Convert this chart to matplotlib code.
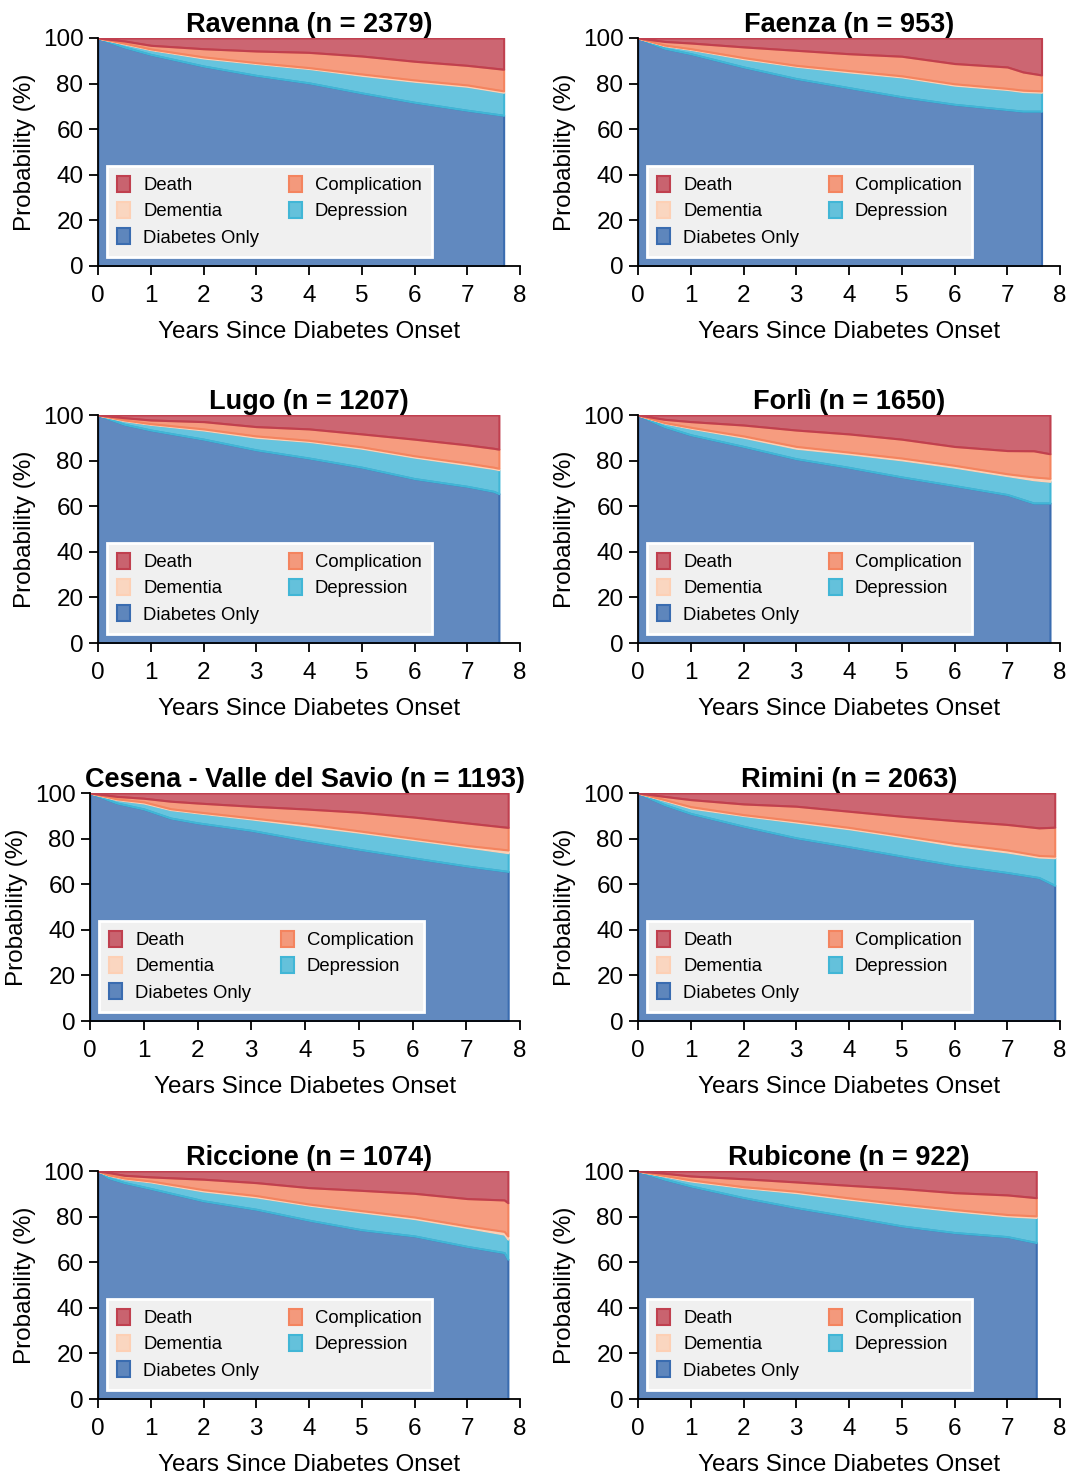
import matplotlib
matplotlib.use("Agg")
import matplotlib.pyplot as plt
from matplotlib.colors import to_rgba
from matplotlib.patches import Patch

plt.rcParams["font.family"] = ["Liberation Sans", "DejaVu Sans"]

# stack order, bottom to top
STATES = ["Diabetes Only", "Depression", "Dementia", "Complication", "Death"]
EDGE = {
    "Diabetes Only": "#3a6cb0",
    "Depression": "#41b6d6",
    "Dementia": "#fdd0b5",
    "Complication": "#f4845f",
    "Death": "#c0404f",
}
LEGEND_ORDER = ["Death", "Dementia", "Diabetes Only", "Complication", "Depression"]

# --- state probabilities (%) ---------------------------------------------
ravenna_t = [0, 0.5, 1, 2, 3, 4, 5, 6, 7, 7.69]
ravenna_only = [100, 96.0, 92.8, 87.7, 83.6, 80.3, 75.9, 71.8, 68.3, 66.1]
ravenna_depr = [0, 1.4, 2.1, 3.5, 5.2, 6.3, 7.7, 9.2, 10.5, 10.1]
ravenna_dem = [0, 0.3, 0.3, 0.5, 0.4, 0.4, 0.6, 0.6, 0.6, 0.6]
ravenna_comp = [0, 1.0, 1.6, 3.6, 5.1, 6.7, 7.9, 8.2, 8.6, 9.5]
ravenna_death = [0, 1.3, 3.2, 4.7, 5.7, 6.3, 7.9, 10.2, 12.0, 13.7]

faenza_t = [0, 0.5, 1, 2, 3, 4, 5, 6, 7, 7.3, 7.65]
faenza_only = [100, 95.5, 93.1, 87.3, 82.2, 78.2, 74.2, 70.9, 68.6, 67.9, 67.9]
faenza_depr = [0, 1.2, 1.9, 3.6, 5.4, 6.9, 8.7, 8.4, 8.8, 8.6, 8.3]
faenza_dem = [0, 0.2, 0.3, 0.5, 0.4, 0.6, 0.5, 0.6, 0.5, 0.6, 0.6]
faenza_comp = [0, 1.6, 2.5, 4.7, 6.6, 7.4, 8.6, 8.9, 9.4, 8.0, 7.0]
faenza_death = [0, 1.5, 2.2, 3.9, 5.4, 6.9, 8.0, 11.2, 12.7, 14.9, 16.2]

lugo_t = [0, 0.5, 1, 2, 3, 4, 5, 6, 7, 7.5, 7.6]
lugo_only = [100, 95.9, 93.4, 89.4, 84.7, 81.1, 77.1, 72.1, 68.7, 66.5, 65.5]
lugo_depr = [0, 1.6, 2.5, 4.0, 5.5, 7.3, 8.3, 9.4, 9.5, 10.0, 10.5]
lugo_dem = [0, 0.3, 0.3, 0.5, 0.6, 0.5, 0.6, 0.6, 0.7, 0.6, 0.6]
lugo_comp = [0, 1.0, 1.6, 3.2, 4.1, 5.0, 5.7, 7.3, 8.0, 8.3, 8.4]
lugo_death = [0, 1.2, 2.2, 2.9, 5.1, 6.1, 8.3, 10.6, 13.1, 14.6, 15.0]

forli_t = [0, 0.5, 1, 2, 3, 4, 5, 6, 7, 7.5, 7.81]
forli_only = [100, 94.9, 91.3, 86.2, 80.8, 77.0, 72.8, 69.0, 65.1, 61.4, 61.4]
forli_depr = [0, 1.6, 2.9, 4.0, 4.6, 6.0, 7.5, 8.1, 8.3, 10.2, 9.5]
forli_dem = [0, 0.2, 0.4, 0.6, 0.8, 0.7, 0.8, 0.8, 0.8, 1.2, 1.3]
forli_comp = [0, 1.4, 2.5, 4.8, 7.2, 8.0, 8.3, 8.3, 10.2, 11.5, 10.8]
forli_death = [0, 1.9, 2.9, 4.4, 6.6, 8.3, 10.6, 13.8, 15.6, 15.7, 17.0]

cesena_t = [0, 0.5, 1, 1.5, 2, 3, 4, 5, 6, 7, 7.78]
cesena_only = [100, 95.6, 93.0, 89.0, 86.9, 83.6, 79.3, 75.3, 71.6, 68.0, 65.6]
cesena_depr = [0, 1.5, 2.6, 3.7, 4.4, 5.0, 6.4, 7.5, 8.0, 8.4, 8.2]
cesena_dem = [0, 0.3, 0.5, 0.4, 0.4, 0.5, 0.8, 0.6, 0.6, 0.6, 1.2]
cesena_comp = [0, 1.1, 1.6, 3.3, 3.9, 5.1, 6.5, 8.2, 9.3, 9.9, 9.9]
cesena_death = [0, 1.5, 2.3, 3.6, 4.4, 5.8, 7.0, 8.4, 10.5, 13.1, 15.1]

rimini_t = [0, 0.5, 1, 2, 3, 4, 5, 6, 7, 7.6, 7.9]
rimini_only = [100, 94.9, 91.0, 85.4, 80.3, 76.4, 72.3, 68.3, 65.1, 62.9, 59.5]
rimini_depr = [0, 1.9, 2.4, 4.7, 6.9, 7.9, 8.5, 8.7, 9.0, 9.0, 12.1]
rimini_dem = [0, 0.3, 0.6, 0.4, 0.6, 0.6, 0.6, 0.9, 0.9, 0.7, 0.7]
rimini_comp = [0, 1.4, 3.1, 4.7, 6.4, 7.1, 8.4, 10.0, 11.2, 12.1, 12.7]
rimini_death = [0, 1.5, 2.9, 4.8, 5.8, 8.0, 10.2, 12.1, 13.8, 15.3, 15.0]

riccione_t = [0, 0.2, 0.5, 1, 2, 3, 4, 5, 6, 7, 7.7, 7.77]
riccione_only = [100, 97.0, 94.9, 92.3, 86.9, 83.2, 78.4, 74.2, 71.5, 66.9, 64.2, 61.3]
riccione_depr = [0, 1.2, 1.7, 2.9, 4.3, 5.4, 6.6, 7.8, 7.6, 8.3, 8.1, 8.8]
riccione_dem = [0, 0.1, 0.3, 0.4, 0.6, 0.6, 0.5, 0.6, 0.7, 0.7, 1.2, 1.4]
riccione_comp = [0, 1.0, 1.2, 1.8, 4.6, 5.7, 7.2, 8.9, 10.4, 12.0, 13.8, 14.6]
riccione_death = [0, 0.7, 1.9, 2.6, 3.6, 5.1, 7.3, 8.5, 9.8, 12.1, 12.7, 13.9]

rubicone_t = [0, 0.5, 1, 2, 3, 4, 5, 6, 7, 7.55]
rubicone_only = [100, 96.4, 93.4, 88.3, 83.9, 80.0, 75.9, 73.0, 71.2, 68.6]
rubicone_depr = [0, 1.4, 2.2, 4.4, 6.6, 7.6, 9.1, 9.5, 9.1, 11.0]
rubicone_dem = [0, 0.2, 0.5, 0.4, 0.6, 0.6, 0.5, 0.6, 0.6, 0.7]
rubicone_comp = [0, 1.0, 1.7, 3.5, 4.1, 5.5, 6.8, 7.4, 8.6, 8.0]
rubicone_death = [0, 1.0, 2.2, 3.4, 4.8, 6.3, 7.7, 9.5, 10.5, 11.7]

regions = [
    ("Ravenna", 2379, ravenna_t,
     [ravenna_only, ravenna_depr, ravenna_dem, ravenna_comp, ravenna_death]),
    ("Faenza", 953, faenza_t,
     [faenza_only, faenza_depr, faenza_dem, faenza_comp, faenza_death]),
    ("Lugo", 1207, lugo_t,
     [lugo_only, lugo_depr, lugo_dem, lugo_comp, lugo_death]),
    ("Forlì", 1650, forli_t,
     [forli_only, forli_depr, forli_dem, forli_comp, forli_death]),
    ("Cesena - Valle del Savio", 1193, cesena_t,
     [cesena_only, cesena_depr, cesena_dem, cesena_comp, cesena_death]),
    ("Rimini", 2063, rimini_t,
     [rimini_only, rimini_depr, rimini_dem, rimini_comp, rimini_death]),
    ("Riccione", 1074, riccione_t,
     [riccione_only, riccione_depr, riccione_dem, riccione_comp, riccione_death]),
    ("Rubicone", 922, rubicone_t,
     [rubicone_only, rubicone_depr, rubicone_dem, rubicone_comp, rubicone_death]),
]

W, H = 1067, 1477
fig = plt.figure(figsize=(W / 100, H / 100), dpi=100)

col_left = [98, 638]
ax_w, ax_h = 422, 228
row_top = [38, 415, 793, 1171]

for i, (name, n, t, layers) in enumerate(regions):
    r, c = divmod(i, 2)
    left = col_left[c]
    width = ax_w
    if name.startswith("Cesena"):
        # the long title pushed this panel a little to the left
        left, width = 90, 430
    ax = fig.add_axes([left / W, 1 - (row_top[r] + ax_h) / H, width / W, ax_h / H])

    polys = ax.stackplot(t, *layers,
                         colors=[to_rgba(EDGE[s], 0.8) for s in STATES])
    for p, s in zip(polys, STATES):
        p.set_edgecolor(EDGE[s])
        p.set_linewidth(1.5)

    ax.set_xlim(0, 8)
    ax.set_ylim(0, 100)
    ax.set_xticks(range(9))
    ax.set_yticks(range(0, 101, 20))
    ax.spines["top"].set_visible(False)
    ax.spines["right"].set_visible(False)
    ax.tick_params(labelsize=17.5, length=6.5, width=1.3)
    ax.tick_params(axis="x", pad=7.5)
    ax.tick_params(axis="y", pad=4)
    for sp in ("left", "bottom"):
        ax.spines[sp].set_linewidth(1.3)
    ax.set_xlabel("Years Since Diabetes Onset", fontsize=17.5, labelpad=10)
    ax.set_ylabel("Probability (%)", fontsize=17.5, labelpad=5)
    ax.set_title(f"{name} (n = {n})", fontsize=19.5, fontweight="bold", pad=3)

    handles = [Patch(facecolor=to_rgba(EDGE[s], 0.8), edgecolor=EDGE[s],
                     linewidth=1.5, label=s) for s in LEGEND_ORDER]
    leg = ax.legend(handles=handles, ncol=2, loc="lower left", fontsize=13.3,
                    frameon=True, fancybox=False, framealpha=1,
                    facecolor="#f0f0f0", edgecolor="white",
                    handlelength=0.7, handleheight=0.95, handletextpad=0.7,
                    columnspacing=1.6, labelspacing=0.43,
                    borderpad=0.55, borderaxespad=0.5)
    leg.get_frame().set_linewidth(2)

fig.savefig("out.png", dpi=100)
